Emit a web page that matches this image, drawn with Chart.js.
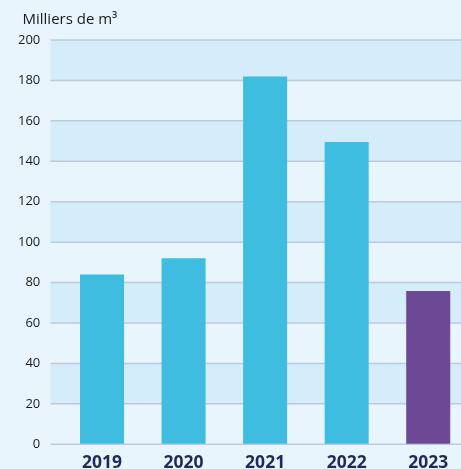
<!DOCTYPE html>
<html>
<head>
<meta charset="utf-8">
<script src="https://cdn.jsdelivr.net/npm/chart.js@4"></script>
<style>
  html, body { margin: 0; padding: 0; overflow: hidden; background: #e9f5fd; }
  canvas { display: block; }
</style>
</head>
<body>
<canvas id="chart" width="469" height="469"></canvas>
<script>
// Volumes par année (milliers de m³)
const years = ['2019', '2020', '2021', '2022', '2023'];
const volumes = [84, 92, 182, 149.5, 75.8];
const barColors = ['#3fbde0', '#3fbde0', '#3fbde0', '#3fbde0', '#6c4895'];
const yTickValues = [0, 20, 40, 60, 80, 100, 120, 140, 160, 180, 200];
const unitLabel = 'Milliers de m³';

const GRID_LEFT = 50.5;

// Background, alternating bands and horizontal rules, all placed from the y scale
const bandsPlugin = {
  id: 'bands',
  beforeDraw(chart) {
    const { ctx, width, height } = chart;
    ctx.save();
    ctx.fillStyle = '#e9f5fd';
    ctx.fillRect(0, 0, width, height);
    ctx.restore();
  },
  beforeDatasetsDraw(chart) {
    const { ctx, width } = chart;
    const y = chart.scales.y;
    ctx.save();
    ctx.fillStyle = '#d5ecfa';
    for (let i = 0; i < yTickValues.length - 1; i++) {
      const lo = yTickValues[i], hi = yTickValues[i + 1];
      if (i % 2 === 1) {
        const yTop = y.getPixelForValue(hi);
        const yBot = y.getPixelForValue(lo);
        ctx.fillRect(GRID_LEFT, yTop, width - GRID_LEFT, yBot - yTop);
      }
    }
    ctx.strokeStyle = '#bccadb';
    ctx.lineWidth = 1.5;
    yTickValues.forEach(v => {
      const py = y.getPixelForValue(v);
      ctx.beginPath();
      ctx.moveTo(GRID_LEFT, py);
      ctx.lineTo(width, py);
      ctx.stroke();
    });
    ctx.restore();
  },
  afterDraw(chart) {
    const { ctx } = chart;
    ctx.save();
    ctx.font = '15px "Open Sans"';
    ctx.fillStyle = '#1a1a1a';
    ctx.textBaseline = 'alphabetic';
    ctx.textAlign = 'left';
    ctx.fillText(unitLabel, 22.5, 24);
    ctx.restore();
  }
};

new Chart(document.getElementById('chart'), {
  type: 'bar',
  data: {
    labels: years,
    datasets: [{
      data: volumes,
      backgroundColor: barColors,
      borderWidth: 0,
      categoryPercentage: 1,
      barPercentage: 0.54
    }]
  },
  options: {
    responsive: false,
    animation: false,
    devicePixelRatio: 1,
    layout: { padding: { top: 40, right: 0, bottom: 0, left: 0 } },
    plugins: {
      legend: { display: false },
      tooltip: { enabled: false },
      title: { display: false }
    },
    scales: {
      x: {
        afterFit(scale) { scale.height = 24.7; },
        grid: { display: false, drawTicks: false },
        border: { display: false },
        ticks: {
          padding: 8.7,
          color: '#1f2a5c',
          font: { family: '"Open Sans"', size: 17.5, weight: 'bold' }
        }
      },
      y: {
        min: 0,
        max: 200,
        afterFit(scale) { scale.width = 61.25; },
        afterBuildTicks(scale) { scale.ticks = yTickValues.map(v => ({ value: v })); },
        // invisible tick marks keep the labels clear of the rules
        grid: { display: true, drawOnChartArea: false, drawTicks: true, tickLength: 10, color: 'rgba(0,0,0,0)' },
        border: { display: false },
        ticks: {
          padding: 11,
          color: '#1a1a1a',
          font: { family: '"Open Sans"', size: 13 }
        }
      }
    }
  },
  plugins: [bandsPlugin]
});
</script>
</body>
</html>
